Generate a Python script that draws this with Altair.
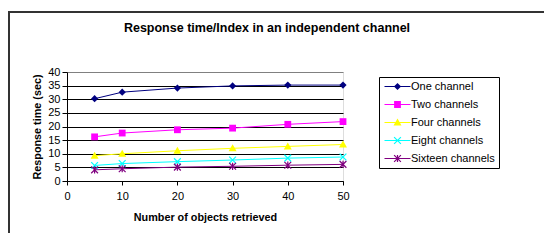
import math
import altair as alt
import pandas as pd

# ---- data ----
objects = [5, 10, 20, 30, 40, 50]
one_channel = [30.2, 32.6, 34.1, 34.9, 35.2, 35.2]
two_channels = [16.2, 17.6, 18.8, 19.4, 20.8, 21.8]
four_channels = [9.3, 10.0, 11.1, 12.0, 12.7, 13.4]
eight_channels = [5.7, 6.4, 7.1, 7.7, 8.4, 8.8]
sixteen_channels = [4.1, 4.5, 5.1, 5.4, 5.8, 6.1]
series_names = ["One channel", "Two channels", "Four channels",
                "Eight channels", "Sixteen channels"]
series_values = [one_channel, two_channels, four_channels,
                 eight_channels, sixteen_channels]
x_ticks = [0, 10, 20, 30, 40, 50]
y_ticks = [0, 5, 10, 15, 20, 25, 30, 35, 40]
chart_title = "Response time/Index in an independent channel"

colors = ["#000080", "#FF00FF", "#FFFF00", "#00FFFF", "#800080"]

rows = []
for name, vals in zip(series_names, series_values):
    for x, v in zip(objects, vals):
        rows.append({"series": name, "objects": x, "time": v})
df = pd.DataFrame(rows)

# ---- marker shapes (filled polygons, unit coords) ----
def fmt(v):
    s = f"{v:.3f}".rstrip("0").rstrip(".")
    return "0" if s in ("-0", "") else s

def poly(pts):
    return "M" + "L".join(f"{fmt(a)},{fmt(b)}" for a, b in pts) + "Z"

def bar(angle_deg, L, w):
    a = math.radians(angle_deg)
    c, s = math.cos(a), math.sin(a)
    return poly([(u * c - v * s, u * s + v * c)
                 for u, v in [(-L, -w), (L, -w), (L, w), (-L, w)]])

diamond = poly([(0, -0.9), (0.9, 0), (0, 0.9), (-0.9, 0)])
square = poly([(-0.85, -0.85), (0.85, -0.85), (0.85, 0.85), (-0.85, 0.85)])
triangle = poly([(0, -1.0), (1.0, 0.75), (-1.0, 0.75)])
xmark = bar(45, 1.2, 0.15) + bar(-45, 1.2, 0.15)
star = bar(45, 1.2, 0.15) + bar(-45, 1.2, 0.15) + bar(90, 0.9, 0.15)
markers = [diamond, square, triangle, xmark, star]
line_seg = poly([(-3.25, -0.125), (3.25, -0.125), (3.25, 0.125), (-3.25, 0.125)])
legend_paths = [line_seg + m for m in markers]

FONT = "Liberation Sans"

legend = alt.Legend(
    title=None, orient="none", legendX=312, legendY=5,
    padding=4, strokeColor="black", fillColor="white",
    labelFont=FONT, labelFontSize=11, labelColor="black",
    symbolSize=64, symbolOffset=9, labelOffset=8, rowPadding=6,
    symbolStrokeWidth=0, symbolOpacity=1,
)

color_scale = alt.Scale(domain=series_names, range=colors)
shape_scale = alt.Scale(domain=series_names, range=markers)
legend_shape_scale = alt.Scale(domain=series_names, range=legend_paths)

x_enc = alt.X("objects:Q", scale=alt.Scale(domain=[0, 50], nice=False),
              axis=alt.Axis(values=x_ticks, grid=False, tickSize=4, labelPadding=5,
                            labelFlush=False, labelFont=FONT, labelFontSize=11,
                            labelColor="black", domainColor="black", tickColor="black",
                            title="Number of objects retrieved", titleFont=FONT,
                            titleFontSize=10.8, titleFontWeight="bold", titleColor="black",
                            titleY=36, titleBaseline="middle"))
y_enc = alt.Y("time:Q", scale=alt.Scale(domain=[0, 40], nice=False),
              axis=alt.Axis(values=y_ticks, grid=True,
                            gridColor={"condition": {"test": "datum.value === 40", "value": "#808080"},
                                       "value": "black"},
                            gridWidth=1, tickSize=5, labelPadding=2, labelFlush=False,
                            labelFont=FONT, labelFontSize=11, labelColor="black",
                            domainColor="black", tickColor="black",
                            title="Response time (sec)", titleFont=FONT, titleFontSize=10.8,
                            titleFontWeight="bold", titleColor="black",
                            titleX=-30, titleY=54.5, titleAngle=-90,
                            titleBaseline="middle", titleAlign="center"))

base = alt.Chart(df)
lines = base.mark_line(strokeWidth=1).encode(
    x=x_enc, y=y_enc,
    color=alt.Color("series:N", scale=color_scale, legend=None),
    detail="series:N",
)
points = base.mark_point(filled=True, size=64, opacity=1, strokeWidth=0).encode(
    x=x_enc, y=y_enc,
    color=alt.Color("series:N", scale=color_scale, legend=None),
    shape=alt.Shape("series:N", scale=shape_scale, legend=None),
)
# invisible layer (no rows) that only carries the legend
legend_layer = base.transform_filter("false").mark_point(
    filled=True, size=64, opacity=1, strokeWidth=0).encode(
    x=x_enc, y=y_enc,
    color=alt.Color("series:N", scale=color_scale, legend=legend),
    shape=alt.Shape("series:N", scale=legend_shape_scale, legend=legend),
)

frame_data = alt.Data(values=[{"k": 0}])
left_border = alt.Chart(frame_data).mark_rule(color="#333333", strokeWidth=2).encode(
    x=alt.value(-58), y=alt.value(-61), y2=alt.value(170))
top_border = alt.Chart(frame_data).mark_rule(color="#333333", strokeWidth=2).encode(
    x=alt.value(-59), x2=alt.value(477), y=alt.value(-60))
title_mark = alt.Chart(frame_data).mark_text(
    font=FONT, fontSize=12.5, fontWeight="bold", color="black",
    align="center", baseline="middle").encode(
    x=alt.value(200), y=alt.value(-44), text=alt.value(chart_title))

chart = alt.layer(lines, points, legend_layer, left_border, top_border, title_mark).resolve_scale(
    shape="independent", color="independent"
).properties(
    width=276, height=109,
    autosize=alt.AutoSizeParams(type="none"),
    padding={"left": 59, "top": 64, "right": 201, "bottom": 52},
).configure_view(stroke="#808080", strokeWidth=1).configure(background="white")

chart.save("out.html", embed_options={"renderer": "svg", "actions": False})
